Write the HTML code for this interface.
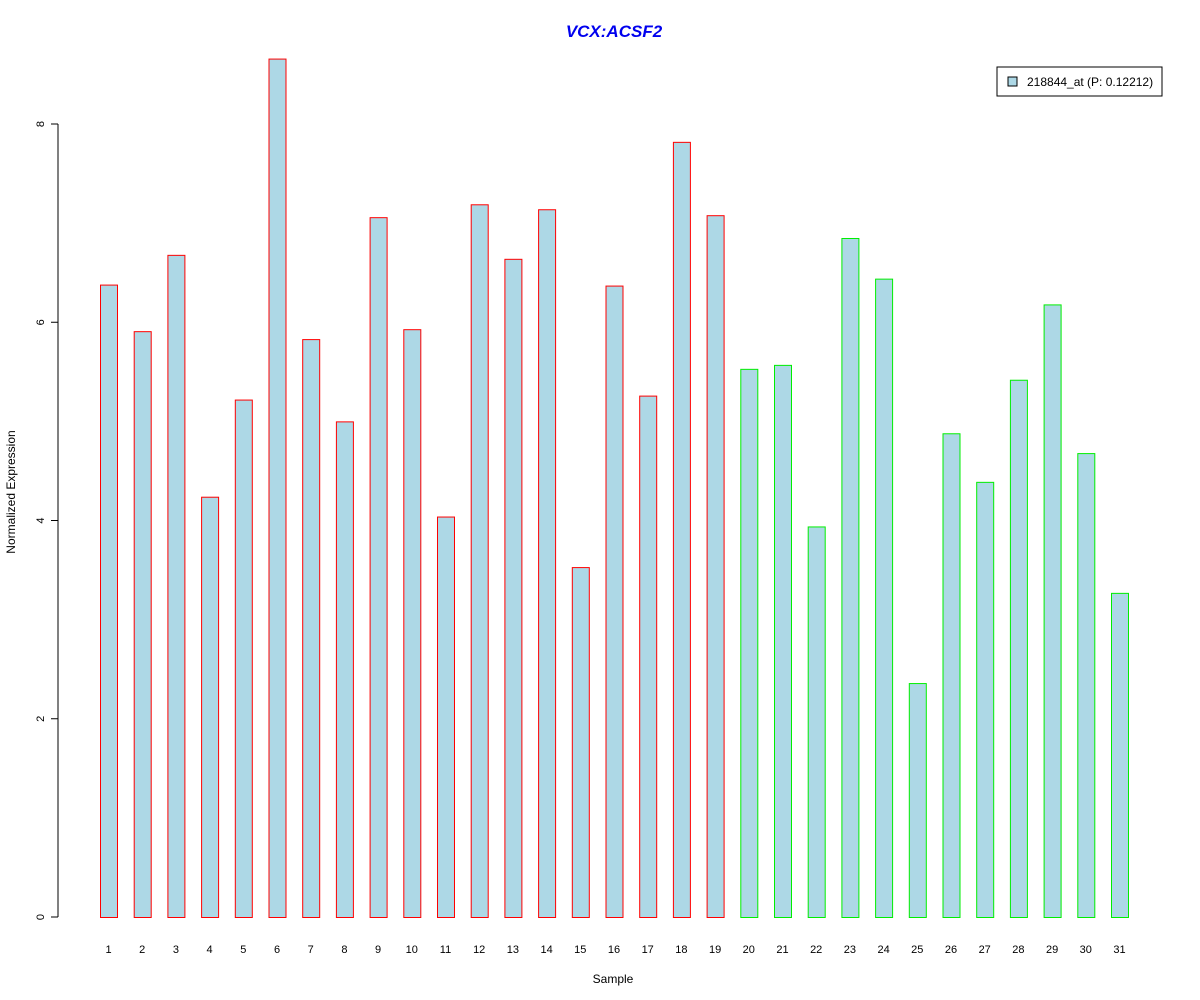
<!DOCTYPE html>
<html><head><meta charset="utf-8"><style>
body{margin:0;background:#fff;}
svg{display:block;font-family:"Liberation Sans",Arial,sans-serif;}
</style></head><body>
<svg id="chart" width="1200" height="1000" viewBox="0 0 1200 1000">
<rect width="1200" height="1000" fill="#fff"/>
<text x="614" y="37" text-anchor="middle" font-size="17" font-weight="bold" font-style="italic" fill="#0000ee">VCX:ACSF2</text>
<text x="613" y="983" text-anchor="middle" font-size="12">Sample</text>
<text transform="translate(15,492) rotate(-90)" text-anchor="middle" font-size="12">Normalized Expression</text>
<g id="yaxis"></g>
<g id="bars"></g>
<g id="xlabels"></g>
<g>
<rect x="997" y="67" width="165" height="29" fill="#fff" stroke="#000"/>
<rect x="1008" y="77" width="9" height="9" fill="#add8e6" stroke="#000"/>
<text x="1027" y="86" font-size="12">218844_at (P: 0.12212)</text>
</g>
</svg>
<script>
const categories=["1","2","3","4","5","6","7","8","9","10","11","12","13","14","15","16","17","18","19","20","21","22","23","24","25","26","27","28","29","30","31"];
const values=[6.38,5.91,6.68,4.24,5.22,8.66,5.83,5.00,7.06,5.93,4.04,7.19,6.64,7.14,3.53,6.37,5.26,7.82,7.08,5.53,5.57,3.94,6.85,6.44,2.36,4.88,4.39,5.42,6.18,4.68,3.27];
const groups=["red","red","red","red","red","red","red","red","red","red","red","red","red","red","red","red","red","red","red","green","green","green","green","green","green","green","green","green","green","green","green"];
const yTicks=[0,2,4,6,8];
const NS="http://www.w3.org/2000/svg";
const y=v=>917-v*99.125;
const x=i=>100+i*33.7;
const bw=17;
const ya=document.getElementById('yaxis');
function mk(t,a){const e=document.createElementNS(NS,t);for(const k in a)e.setAttribute(k,a[k]);return e;}
const ax=mk('line',{x1:58,x2:58,y1:y(yTicks[yTicks.length-1]),y2:y(yTicks[0]),stroke:'#000'});


ya.appendChild(ax);
yTicks.forEach(t=>{
const l=mk('line',{x1:51,x2:58,y1:y(t),y2:y(t),stroke:'#000'});


ya.appendChild(l);
const tx=mk('text',{transform:`translate(44,${y(t)}) rotate(-90)`,'text-anchor':'middle','font-size':11});


tx.textContent=t;ya.appendChild(tx);
});
const bg=document.getElementById('bars'),xl=document.getElementById('xlabels');
values.forEach((v,i)=>{
const r=mk('rect',{x:x(i)+0.5,y:y(v)+0.5,width:bw,height:y(0)-y(v),fill:'#add8e6',stroke:groups[i]==='red'?'#ff0000':'#00ee00'});


bg.appendChild(r);
const t=mk('text',{x:x(i)+bw/2,y:953,'text-anchor':'middle','font-size':11});


t.textContent=categories[i];xl.appendChild(t);
});
</script>
</body></html>
